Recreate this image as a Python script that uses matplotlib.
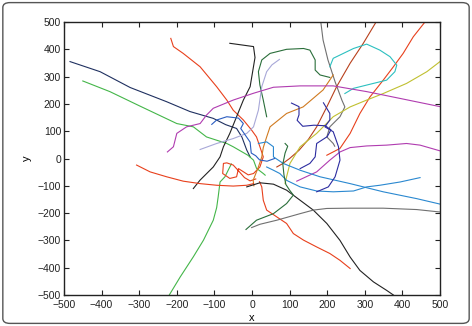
import numpy as np
import matplotlib
matplotlib.use('Agg')
import matplotlib.pyplot as plt
from matplotlib.patches import FancyBboxPatch

# trajectories (x, y pairs)
navy_x = [-484, -404, -324, -227, -165, -103, -70, -41, -27, -14, -5]
navy_y = [355, 318, 260, 208, 172, 147, 124, 110, 79, 31, 6]

green_x = [-450, -378, -298, -200, -156, -121, -67, -50, -11, 4, 12, 30, 35]
green_y = [284, 245, 192, 128, 116, 79, 55, 43, 12, -6, -36, -55, -61]

green2_x = [-220, -191, -156, -129, -103, -94, -90, -85, -72, -59, -55]
green2_y = [-500, -434, -360, -299, -226, -180, -141, -86, -67, -31, -20]

red_x = [-216, -209, -183, -138, -94, -67, -50, -23, -1, 12, 21, 30, 21, 4, -10, -36, -41, -59, -78, -76, -67, -50, -36, -20, -5, 10]
red_y = [440, 410, 385, 336, 263, 214, 177, 141, 104, 79, 43, 6, -31, -55, -60, -37, -67, -73, -55, -18, -16, -24, -45, -70, -82, -75]

black_x = [-59, 4, 8, 4, -5, -23, -41, -59, -76, -85, -103, -138, -156]
black_y = [422, 410, 370, 337, 263, 214, 153, 92, 43, 6, -31, -79, -110]

dkgreen_x = [39, 30, 21, 17, 26, 48, 92, 137, 154, 168, 168, 181, 207]
dkgreen_y = [153, 214, 269, 318, 361, 385, 400, 403, 397, 361, 324, 306, 297]

lav_x = [-138, -94, -50, -14, 4, 17, 26, 39, 53, 73]
lav_y = [33, 55, 73, 92, 116, 177, 263, 318, 343, 363]

gray_x = [183, 189, 202, 221, 239, 247, 234, 207, 199, 216, 220]
gray_y = [500, 434, 361, 281, 214, 189, 153, 116, 79, 55, 45]

orange_x = [216, 189, 136, 92, 48, 39, 30, 26, 17, 3, 5]
orange_y = [306, 251, 189, 165, 116, 79, 40, 6, -31, -80, -100]

brown_x = [330, 296, 261, 225, 199, 172, 150, 125, 100, 80, 66]
brown_y = [500, 422, 349, 263, 189, 116, 70, 30, 0, -20, -31]

red2_x = [460, 429, 402, 376, 349, 314, 287, 261, 234, 199]
red2_y = [500, 446, 385, 336, 287, 226, 165, 92, 37, 12]

cyan_x = [247, 270, 305, 358, 380, 385, 367, 340, 305, 270, 243, 216, 207]
cyan_y = [238, 257, 269, 287, 318, 342, 373, 397, 419, 403, 385, 367, 336]

olive_x = [500, 465, 411, 349, 305, 261, 216, 172, 128, 101, 92, 88]
olive_y = [355, 318, 275, 238, 214, 189, 153, 92, 43, -18, -67, -92]

mag_x = [-225, -209, -200, -174, -138, -121, -103, -50, 4, 57, 128, 216, 305, 394, 500]
mag_y = [24, 43, 92, 116, 128, 159, 184, 214, 239, 261, 266, 266, 245, 220, 190]

mag2_x = [119, 172, 207, 234, 261, 305, 358, 411, 447, 500]
mag2_y = [-83, -49, -6, 24, 40, 46, 49, 55, 49, 28]

blue_x = [17, 39, 57, 57, 83, 128, 181, 261, 349, 438, 500]
blue_y = [55, 61, 43, 6, -18, -43, -67, -92, -122, -147, -167]

blue2_x = [447, 394, 340, 305, 270, 216, 172, 128, 92, 74, 57, 39]
blue2_y = [-70, -86, -98, -104, -119, -122, -119, -104, -80, -55, -43, -31]

indigo_x = [105, 125, 125, 120, 135, 165, 195, 210, 200, 172, 168, 154, 128]
indigo_y = [203, 190, 160, 140, 118, 122, 120, 105, 80, 55, 6, -18, -37]

indigo2_x = [190, 207, 207, 194, 216, 230, 234, 221, 203, 172]
indigo2_y = [204, 165, 141, 116, 98, 43, -6, -67, -104, -122]

mblue_x = [-107, -94, -67, -36, -23, -30, -20, -5, -2, 10, 20, 40, 60]
mblue_y = [125, 141, 153, 148, 128, 110, 90, 60, 20, 10, -5, -10, 0]

red3_x = [-307, -271, -227, -183, -138, -94, -50, -14, 4]
red3_y = [-24, -49, -67, -83, -92, -98, -101, -98, -92]

red4_x = [20, 26, 30, 39, 66, 92, 110, 137, 172, 207, 234, 261]
red4_y = [-85, -104, -153, -189, -214, -238, -275, -299, -324, -348, -373, -403]

black2_x = [-14, 21, 57, 92, 128, 163, 199, 234, 261, 287, 323, 358, 376]
black2_y = [-104, -89, -94, -116, -153, -189, -238, -300, -361, -410, -452, -483, -500]

dkgreen2_x = [-16, 12, 57, 92, 110, 100, 90, 85, 82, 88, 95, 88]
dkgreen2_y = [-260, -226, -202, -165, -134, -116, -95, -60, -20, 20, 45, 55]

gray2_x = [-1, 21, 66, 128, 163, 199, 261, 349, 438, 500]
gray2_y = [-253, -241, -226, -202, -189, -183, -182, -182, -187, -196]

tracks = [
    (navy_x, navy_y, '#1f3060'),
    (green_x, green_y, '#44b649'),
    (green2_x, green2_y, '#44b649'),
    (red_x, red_y, '#e8401c'),
    (black_x, black_y, '#222222'),
    (dkgreen_x, dkgreen_y, '#2a6e3a'),
    (lav_x, lav_y, '#a8a8d8'),
    (gray_x, gray_y, '#707070'),
    (orange_x, orange_y, '#d07a20'),
    (brown_x, brown_y, '#b8401c'),
    (red2_x, red2_y, '#e8401c'),
    (cyan_x, cyan_y, '#2cc0c0'),
    (olive_x, olive_y, '#c0c030'),
    (mag_x, mag_y, '#b03cb0'),
    (mag2_x, mag2_y, '#b03cb0'),
    (blue_x, blue_y, '#2a88d0'),
    (blue2_x, blue2_y, '#2a88d0'),
    (indigo_x, indigo_y, '#2c2ca0'),
    (indigo2_x, indigo2_y, '#2c2ca0'),
    (mblue_x, mblue_y, '#2a5cc0'),
    (red3_x, red3_y, '#e8401c'),
    (red4_x, red4_y, '#e8401c'),
    (black2_x, black2_y, '#222222'),
    (dkgreen2_x, dkgreen2_y, '#2a6e3a'),
    (gray2_x, gray2_y, '#707070'),
]

ticks = list(range(-500, 501, 100))

plt.rcParams['font.family'] = ['Liberation Sans', 'DejaVu Sans']

fig = plt.figure(figsize=(4.72, 3.26), dpi=100)
fig.patches.append(FancyBboxPatch((0.006, 0.008), 0.988, 0.984,
                                  boxstyle='round,pad=0,rounding_size=0.015',
                                  transform=fig.transFigure, fill=False,
                                  edgecolor='#555555', linewidth=1.0))
ax = fig.add_axes([0.1356, 0.0951, 0.7966, 0.8374])

for x, y, c in tracks:
    ax.plot(x, y, color=c, linewidth=0.8)

ax.set_xlim(-500, 500)
ax.set_ylim(-500, 500)
ax.set_xticks(ticks)
ax.set_yticks(ticks)
ax.set_xticklabels([str(t).replace('-', '\u2212') for t in ticks])
ax.set_yticklabels([str(t).replace('-', '\u2212') for t in ticks])
ax.tick_params(direction='in', length=3.5, width=0.8, labelsize=7.5,
               top=True, right=True, colors='#222222', pad=2)
ax.tick_params(axis='x', pad=3.5)
for s in ax.spines.values():
    s.set_linewidth(1.0)
    s.set_color('#222222')
ax.set_xlabel('x', fontsize=8, labelpad=2)
ax.set_ylabel('y', fontsize=8, labelpad=4)

fig.savefig('out.png', dpi=100)
